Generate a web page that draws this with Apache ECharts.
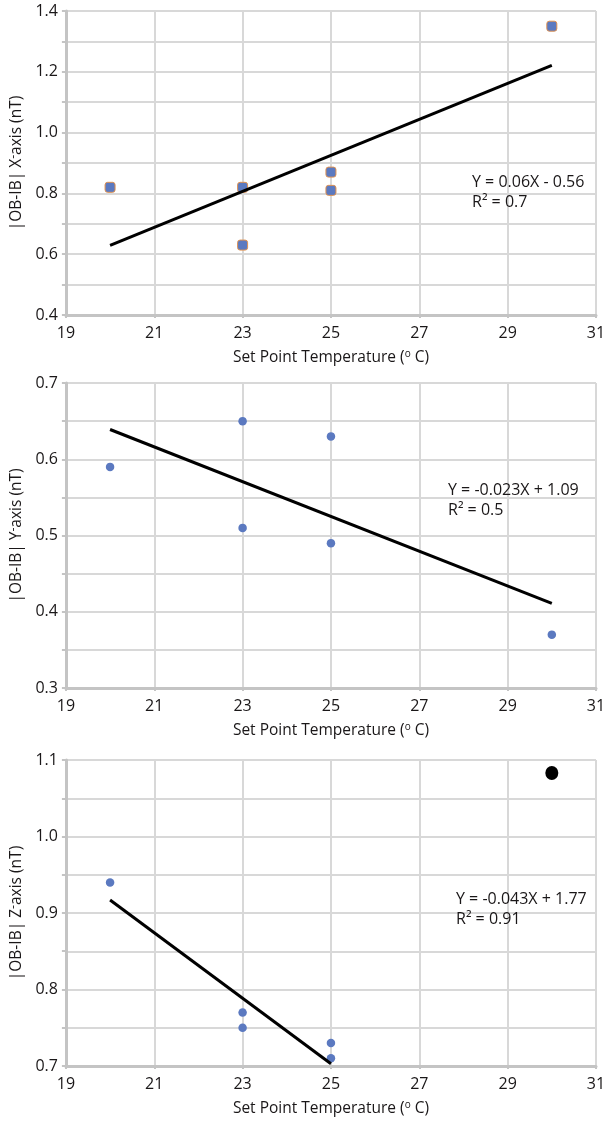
<!DOCTYPE html>
<html>
<head>
<meta charset="utf-8">
<script src="https://cdn.jsdelivr.net/npm/echarts@6/dist/echarts.min.js"></script>
<style>
  html, body { margin: 0; padding: 0; background: #fff; }
  #chart { width: 610px; height: 1122px; }
</style>
</head>
<body>
<div id="chart"></div>
<script>
// Set point temperatures (°C) shared by the three panels
const xTickValues = [19, 21, 23, 25, 27, 29, 31];

// |OB-IB| X-axis (nT)
const xAxisTemps = [20, 23, 23, 25, 25, 30];
const xAxisValues = [0.82, 0.82, 0.63, 0.87, 0.81, 1.35];
const xAxisTrend = [[20, 0.629], [30, 1.221]];
const xAxisEquation = ['Y = 0.06X - 0.56', 'R² = 0.7'];

// |OB-IB| Y-axis (nT)
const yAxisTemps = [20, 23, 23, 25, 25, 30];
const yAxisValues = [0.59, 0.65, 0.51, 0.63, 0.49, 0.37];
const yAxisTrend = [[20, 0.639], [30, 0.411]];
const yAxisEquation = ['Y = -0.023X + 1.09', 'R² = 0.5'];

// |OB-IB| Z-axis (nT)
const zAxisTemps = [20, 23, 23, 25, 25];
const zAxisValues = [0.94, 0.77, 0.75, 0.73, 0.71];
const zAxisTrend = [[20, 0.917], [25, 0.703]];
const zAxisEquation = ['Y = -0.043X + 1.77', 'R² = 0.91'];
const zAxisOutlier = [[30, 1.083]];

const TEXT = '#1a1718';
const FONT = '"Open Sans", "Noto Sans", sans-serif';
const GRID_LINE = '#d8d8d8';
const AXIS_LINE = '#c4c4c4';
const BLUE = '#5b79c0';

const pairs = (xs, ys) => xs.map((x, i) => [x, ys[i]]);

const panels = [
  { top: 11, height: 304, yMin: 0.4, yMax: 1.4, yStep: 0.2, title: 'X' },
  { top: 383, height: 305, yMin: 0.3, yMax: 0.7, yStep: 0.1, title: 'Y' },
  { top: 760, height: 306, yMin: 0.7, yMax: 1.1, yStep: 0.1, title: 'Z' }
];

const grids = panels.map(p => ({ left: 61, right: 14, top: p.top, height: p.height }));

const xAxes = panels.map((p, i) => ({
  type: 'value',
  gridIndex: i,
  min: 19,
  max: 31,
  name: 'Set Point Temperature ({sup|o} C)',
  nameLocation: 'middle',
  nameGap: 34,
  nameTextStyle: {
    color: TEXT, fontFamily: FONT, fontSize: 15.5,
    rich: { sup: { fontSize: 10, fontFamily: FONT, color: TEXT, padding: [0, 0, 7, 0] } }
  },
  axisLine: { show: true, lineStyle: { color: AXIS_LINE, width: 3 } },
  axisTick: { show: true, customValues: xTickValues, length: 3, lineStyle: { color: AXIS_LINE, width: 2 } },
  axisLabel: {
    customValues: xTickValues, margin: 10, color: TEXT, fontFamily: FONT, fontSize: 16, lineHeight: 16
  },
  splitLine: { show: true, lineStyle: { color: GRID_LINE, width: 2 } }
}));

const yAxes = panels.map((p, i) => ({
  type: 'value',
  gridIndex: i,
  min: p.yMin,
  max: p.yMax,
  interval: p.yStep,
  name: '|OB-IB| ' + p.title + '{sup|-}axis (nT)',
  nameLocation: 'middle',
  nameRotate: 90,
  nameGap: 27,
  nameTextStyle: {
    color: TEXT, fontFamily: FONT, fontSize: 15.5,
    rich: { sup: { fontSize: 12, fontFamily: FONT, color: TEXT, padding: [0, 0, 5, 0] } }
  },
  axisLine: { show: true, lineStyle: { color: AXIS_LINE, width: 3 } },
  axisTick: { show: true, length: 4, lineStyle: { color: AXIS_LINE, width: 2 } },
  minorTick: { show: true, splitNumber: 2, length: 4, lineStyle: { color: AXIS_LINE, width: 2 } },
  axisLabel: {
    margin: 8, color: TEXT, fontFamily: FONT, fontSize: 16,
    formatter: v => v.toFixed(1)
  },
  splitLine: { show: true, lineStyle: { color: GRID_LINE, width: 2 } },
  minorSplitLine: { show: true, lineStyle: { color: GRID_LINE, width: 2 } }
}));

const dotSeries = (data, idx, square) => ({
  type: 'scatter',
  xAxisIndex: idx,
  yAxisIndex: idx,
  data: data,
  symbol: square ? 'roundRect' : 'circle',
  symbolSize: square ? 10 : 8.5,
  itemStyle: square
    ? { color: BLUE, borderColor: '#e0914f', borderWidth: 1, opacity: 1 }
    : { color: BLUE, opacity: 1 },
  z: 3
});

const trendSeries = (data, idx) => ({
  type: 'line',
  xAxisIndex: idx,
  yAxisIndex: idx,
  data: data,
  showSymbol: false,
  symbol: 'none',
  lineStyle: { color: '#000', width: 3, cap: 'butt' },
  z: 4
});

const series = [
  dotSeries(pairs(xAxisTemps, xAxisValues), 0, true),
  trendSeries(xAxisTrend, 0),
  dotSeries(pairs(yAxisTemps, yAxisValues), 1, false),
  trendSeries(yAxisTrend, 1),
  dotSeries(pairs(zAxisTemps, zAxisValues), 2, false),
  trendSeries(zAxisTrend, 2),
  {
    type: 'scatter',
    xAxisIndex: 2,
    yAxisIndex: 2,
    data: zAxisOutlier,
    symbol: 'circle',
    symbolSize: [13, 14],
    itemStyle: { color: '#000', opacity: 1 },
    z: 5
  }
];

// Regression equation annotations, two lines each
const equationText = (lines, left, firstY) => lines.map((t, k) => ({
  type: 'text',
  x: left,
  y: firstY + k * 20.5,
  z: 100,
  style: { text: t, fill: TEXT, font: '16px ' + FONT, verticalAlign: 'middle', align: 'left' }
}));

const graphics = [].concat(
  equationText(xAxisEquation, 472, 182),
  equationText(yAxisEquation, 448, 490),
  equationText(zAxisEquation, 456, 899)
);

const chart = echarts.init(document.getElementById('chart'), null, { renderer: 'canvas' });
chart.setOption({
  animation: false,
  backgroundColor: '#fff',
  grid: grids,
  xAxis: xAxes,
  yAxis: yAxes,
  series: series,
  graphic: graphics
});
</script>
</body>
</html>
